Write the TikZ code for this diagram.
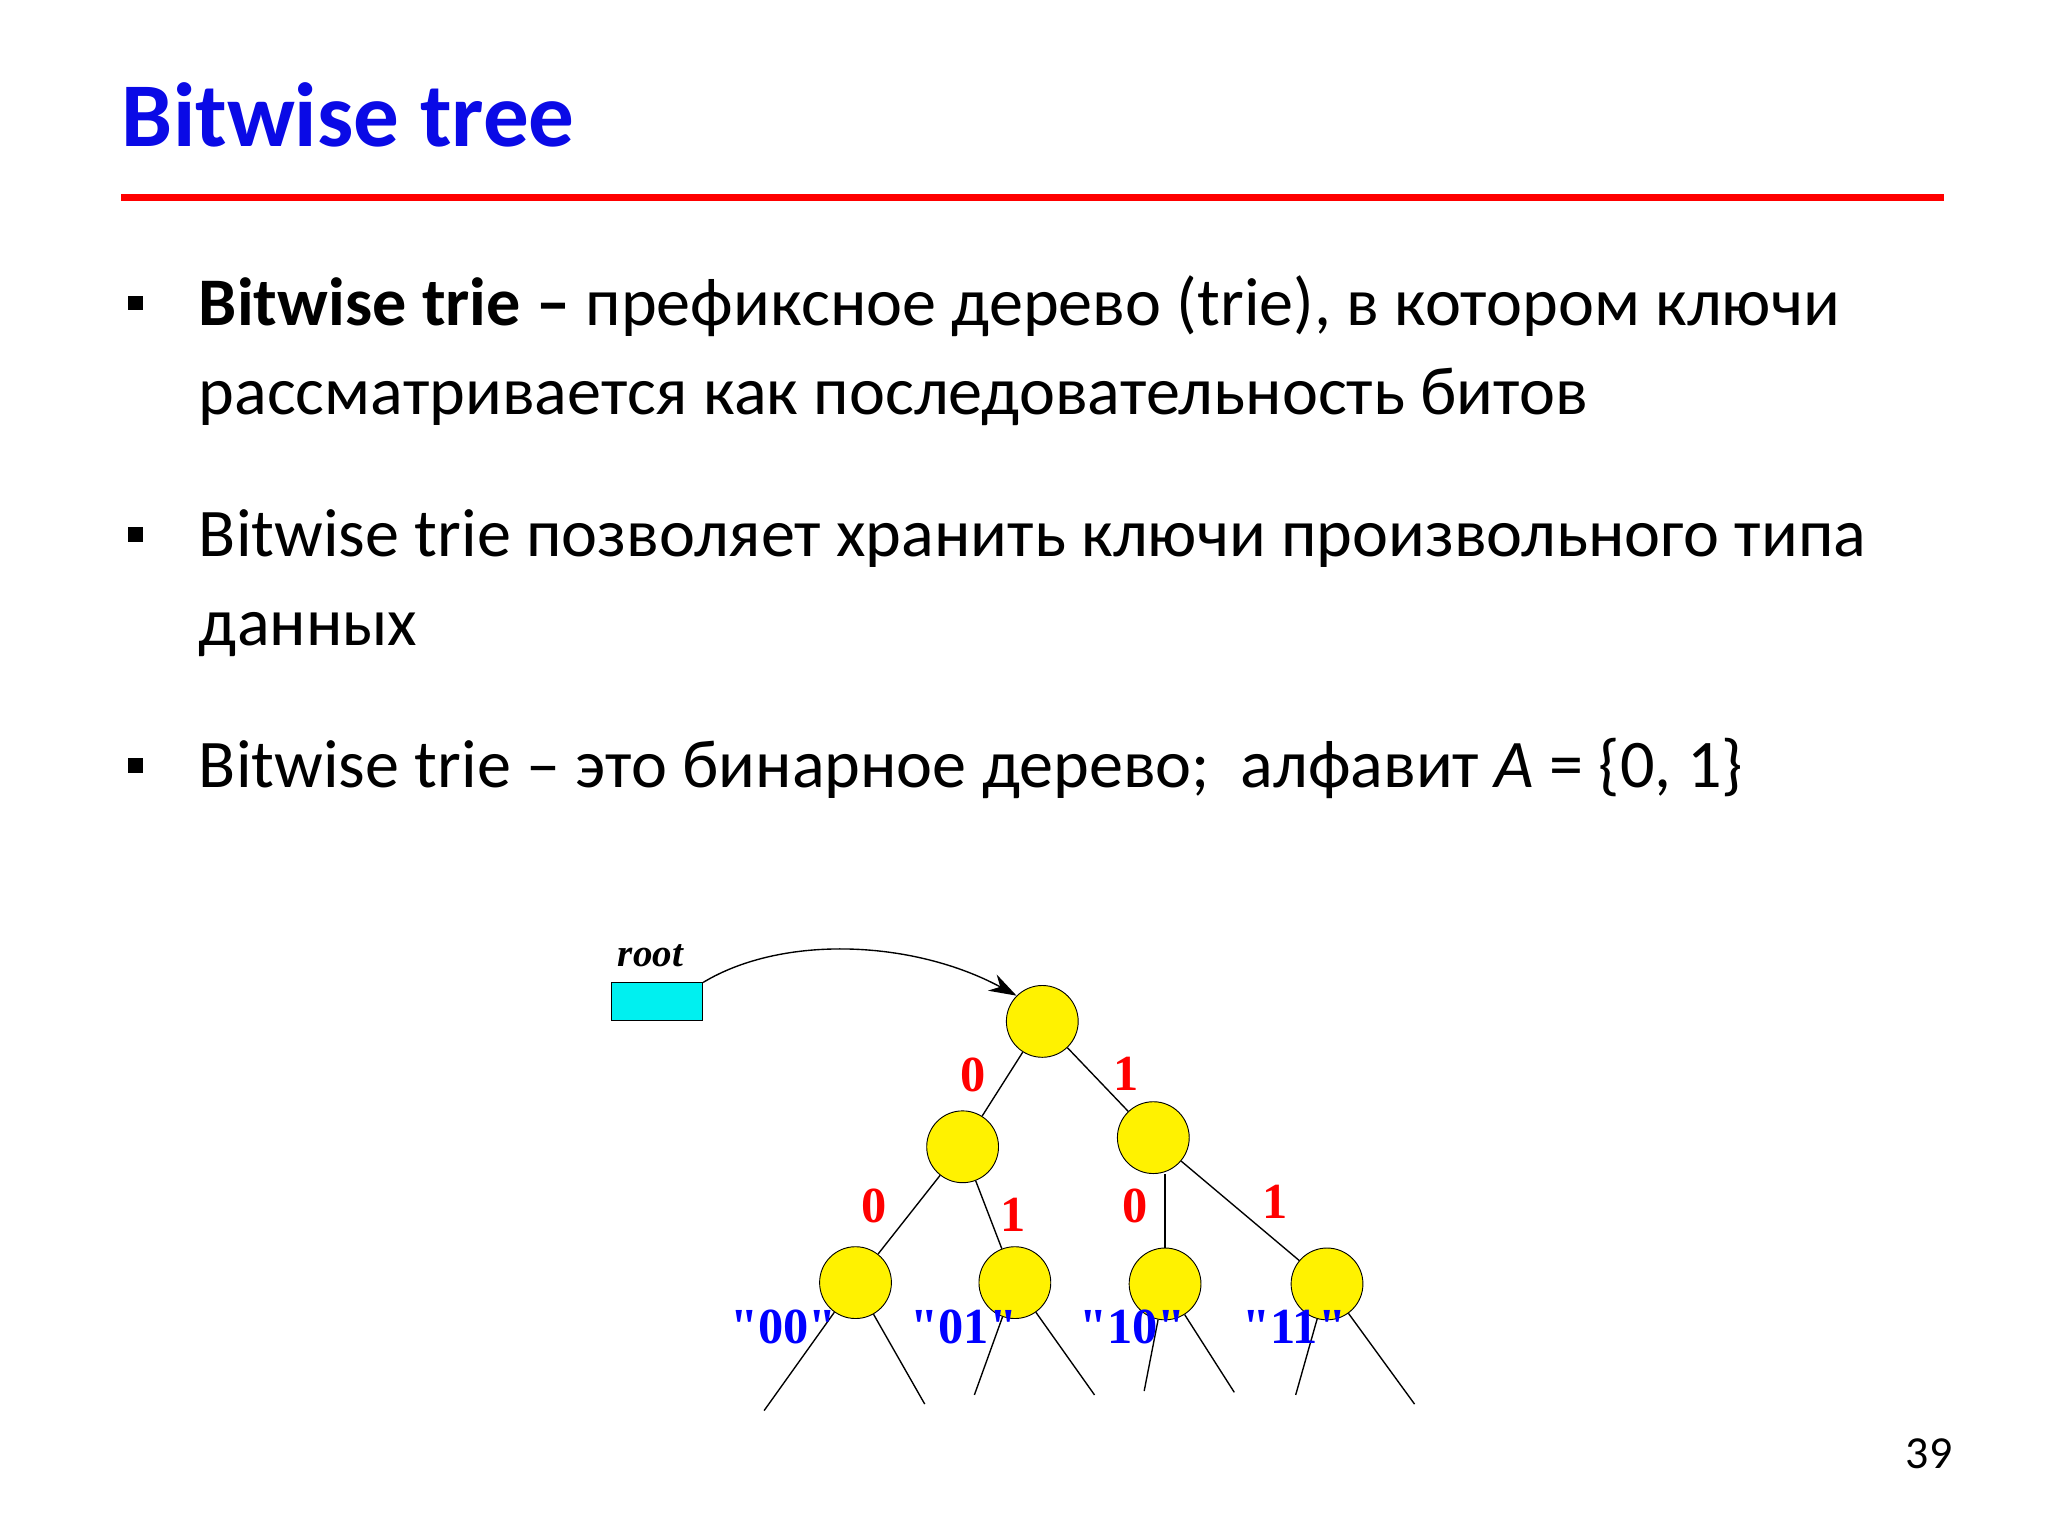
\documentclass[tikz,border=0pt]{standalone}
\usepackage{fontspec}
\setmainfont{Carlito}
\newfontfamily\tms{Liberation Serif}
\usetikzlibrary{arrows.meta}
\definecolor{ttl}{RGB}{10,10,230}
\definecolor{aqua}{RGB}{0,240,240}
\tikzset{
  tn/.style={circle,draw=black,fill=yellow,minimum size=1.1cm,inner sep=0pt},
  bit/.style={text=red,font=\tms\bfseries\fontsize{22}{22}\selectfont,inner sep=0pt},
  key/.style={text=blue,font=\tms\bfseries\fontsize{22}{22}\selectfont,inner sep=0pt},
  body/.style={anchor=base west,inner sep=0pt,font=\fontsize{29.7}{32}\selectfont},
  bul/.style={fill=black,minimum size=6.5pt,inner sep=0pt},
  ed/.style={draw=black,line width=0.6pt}
}
\begin{document}
\begin{tikzpicture}[x=0.02cm,y=-0.02cm]
\useasboundingbox (0,0) rectangle (1568,1176);
\node[anchor=base west,inner sep=0pt,text=ttl,font=\bfseries\fontsize{39.7}{42}\selectfont] (title) at (93,112) {Bitwise tree};
\draw[red,line width=3pt] (93,151) coordinate (la) -- (1488,151) coordinate (lb);
\node[bul] (b1) at (104,232) {};
\node[bul] (b2) at (104,409) {};
\node[bul] (b3) at (104,586) {};
\node[body] (t1) at (152,249) {\textbf{Bitwise trie –} префиксное дерево (trie), в котором ключи};
\node[body] (t2) at (152,317) {рассматривается как последовательность битов};
\node[body] (t3) at (152,426) {Bitwise trie позволяет хранить ключи произвольного типа};
\node[body] (t4) at (152,494) {данных};
\node[body] (t5) at (152,603) {Bitwise trie – это бинарное дерево;\ \ алфавит \textit{A} = \{0, 1\}};
% tree
\node[draw=black,fill=aqua,minimum width=1.4cm,minimum height=0.58cm,inner sep=0pt] (rb) at (503,767) {};
\node[font=\tms\bfseries\itshape\fontsize{17}{17}\selectfont,inner sep=0pt] (rt) at (498,732) {root};
\node[tn] (r) at (798,782) {};
\node[tn] (a) at (737,878) {};
\node[tn] (b) at (883,871) {};
\node[tn] (c) at (655,982) {};
\node[tn] (d) at (777,982) {};
\node[tn] (e) at (892,983) {};
\node[tn] (f) at (1016,983) {};
\draw[-{Stealth[length=12pt,width=8pt]},line width=0.6pt] (rb.north east) .. controls (600,715) and (700,720) .. (r.north west);
\draw[ed] (r) -- (a); \draw[ed] (r) -- (b);
\draw[ed] (a) -- (c); \draw[ed] (a) -- (d);
\draw[ed] (b.south -| e) -- (e); \draw[ed] (b) -- (f);
\foreach \n/\x/\y in {c1/585/1080,c2/708/1075,d1/746/1068,d2/838/1068,e1/876/1065,e2/945/1066,f1/992/1068,f2/1083/1075}
  \coordinate (\n) at (\x,\y);
\draw[ed] (c) -- (c1); \draw[ed] (c) -- (c2);
\draw[ed] (d) -- (d1); \draw[ed] (d) -- (d2);
\draw[ed] (e) -- (e1); \draw[ed] (e) -- (e2);
\draw[ed] (f) -- (f1); \draw[ed] (f) -- (f2);
\node[bit] (l1) at (745,823) {0};
\node[bit] (l2) at (862,822) {1};
\node[bit] (l3) at (669,923) {0};
\node[bit] (l4) at (776,930) {1};
\node[bit] (l5) at (869,923) {0};
\node[bit] (l6) at (976,920) {1};
\node[key] (k1) at (600,1016) {"00"};
\node[key] (k2) at (738,1016) {"01"};
\node[key] (k3) at (867,1016) {"10"};
\node[key] (k4) at (991,1016) {"11"};
\node[font=\fontsize{20}{20}\selectfont,inner sep=0pt] (pg) at (1477,1113) {39};
\end{tikzpicture}
\end{document}
